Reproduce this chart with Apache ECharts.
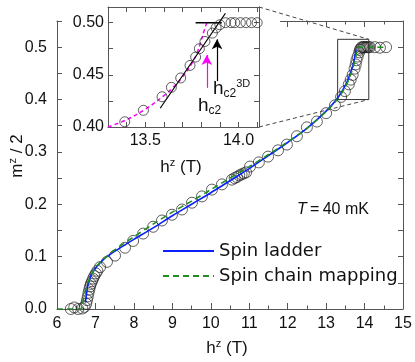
<!DOCTYPE html>
<html>
<head>
<meta charset="utf-8">
<script src="https://cdn.jsdelivr.net/npm/echarts@6/dist/echarts.min.js"></script>
<style>
html, body { margin: 0; padding: 0; background: #fff; }
#chart { width: 415px; height: 362px; }
</style>
</head>
<body>
<div id="chart"></div>
<script>
// measured m^z/2 vs h^z (open circles)
var hData = [6.36, 6.45, 6.55, 6.66, 6.72, 6.76, 6.78, 6.80, 6.82, 6.84, 6.86, 6.88, 6.91, 6.94, 6.97, 7.01, 7.05,
  7.12, 7.30, 7.51, 7.77, 7.98, 8.24, 8.50, 8.73, 8.99, 9.25, 9.51, 9.77, 10.03, 10.29,
  10.55, 10.62, 10.68, 10.74, 10.80, 10.86, 10.92, 11.02, 11.25, 11.49, 11.75, 11.98, 12.24, 12.50, 12.76, 13.00, 13.23,
  13.39, 13.49, 13.59, 13.64, 13.69, 13.74, 13.77, 13.79, 13.82, 13.86, 13.88, 13.90, 13.93, 13.96, 13.98,
  14.01, 14.04, 14.07, 14.10, 14.14, 14.27, 14.40, 14.56]
var mData = [0.000, 0.003, 0.000, 0.001, 0.004, 0.010, 0.017, 0.024, 0.031, 0.037, 0.043, 0.048, 0.053, 0.058, 0.063, 0.068, 0.073,
  0.080, 0.090, 0.102, 0.117, 0.130, 0.144, 0.157, 0.169, 0.180, 0.190, 0.203, 0.215, 0.228, 0.238,
  0.247, 0.250, 0.252, 0.255, 0.257, 0.259, 0.261, 0.272, 0.280, 0.291, 0.303, 0.314, 0.330, 0.347, 0.358, 0.374, 0.389,
  0.405, 0.416, 0.429, 0.438, 0.447, 0.459, 0.467, 0.475, 0.482, 0.490, 0.495, 0.498, 0.500, 0.500, 0.500,
  0.500, 0.500, 0.500, 0.500, 0.500, 0.500, 0.499, 0.500]

// spin ladder (blue)
var ladderH = [6.74, 6.77, 6.80, 6.85, 6.90, 7.00, 7.20, 7.50, 7.80, 8.00, 8.50, 9.00, 9.50, 10.00, 10.50, 11.00,
  11.50, 12.00, 12.50, 13.00, 13.30, 13.50, 13.60, 13.70, 13.75, 13.78]
var ladderM = [0.012, 0.030, 0.045, 0.057, 0.066, 0.078, 0.094, 0.110, 0.124, 0.133, 0.155, 0.178, 0.200, 0.222, 0.245, 0.268,
  0.293, 0.318, 0.345, 0.378, 0.403, 0.427, 0.444, 0.466, 0.483, 0.496]

// spin chain mapping (green dashed)
var chainH = [6.00, 6.62, 6.66, 6.70, 6.75, 6.80, 6.90, 7.00, 7.30, 7.60, 8.00, 8.50, 9.00, 9.50, 10.00, 10.50, 11.00,
  11.50, 12.00, 12.50, 13.00, 13.30, 13.50, 13.60, 13.70, 13.78, 13.84, 14.60]
var chainM = [0.000, 0.000, 0.008, 0.022, 0.038, 0.050, 0.066, 0.079, 0.101, 0.118, 0.138, 0.162, 0.185, 0.206, 0.228, 0.250, 0.272,
  0.295, 0.319, 0.345, 0.377, 0.401, 0.424, 0.440, 0.461, 0.484, 0.500, 0.500]

// inset guides
var guideH = [13.30, 13.40, 13.50, 13.60, 13.65, 13.70, 13.75, 13.78, 13.80, 13.815, 13.83]
var guideM = [0.400, 0.407, 0.417, 0.430, 0.438, 0.448, 0.461, 0.472, 0.483, 0.492, 0.500]
var fitH = [13.58, 13.93]
var fitM = [0.418, 0.509]
var satH = [13.77, 13.91]
var satM = [0.500, 0.500]
var hc2Arrow = [13.83, 0.4375, 0.469]
var hc2_3dArrow = [13.885, 0.444, 0.484]

// axis ranges / tick labels
var insetX = [13.3, 14.11]
var insetY = [0.40, 0.515]
var mainXLabels = ['6', '7', '8', '9', '10', '11', '12', '13', '14', '15']
var mainYLabels = ['0.0', '0.1', '0.2', '0.3', '0.4', '0.5']
var insetXLabels = ['13.5', '14.0']
var insetYLabels = ['0.40', '0.45', '0.50']

var AX = '#555'
var TXT = '#111'
var FONT = '"Liberation Sans", Arial, sans-serif'

function zip(a, b) {
  var out = []
  for (var i = 0; i < a.length; i++) out.push([a[i], b[i]])
  return out
}
function pick(labels) {
  return function (v) {
    for (var i = 0; i < labels.length; i++) {
      if (Math.abs(parseFloat(labels[i]) - v) < 1e-6) return labels[i]
    }
    return ''
  }
}
function axis(o) {
  var base = {
    type: 'value',
    axisLine: { show: true, onZero: false, lineStyle: { color: AX, width: 1 } },
    axisTick: { show: true, inside: true, length: 6, lineStyle: { color: AX } },
    splitLine: { show: false },
    axisLabel: { show: false }
  }
  return Object.assign(base, o)
}
function label(margin, labels) {
  return { show: true, margin: margin, fontSize: 16, color: TXT, fontFamily: FONT, formatter: pick(labels) }
}

var points = zip(hData, mData)
var insetPoints = points.filter(function (p) {
  return p[0] >= insetX[0] && p[0] <= insetX[1] && p[1] >= insetY[0] && p[1] <= insetY[1]
})

var chart = echarts.init(document.getElementById('chart'))
chart.setOption({
  animation: false,
  grid: [
    { left: 57, top: 21, width: 346, height: 288 },
    { left: 108, top: 7, width: 151, height: 120 }
  ],
  xAxis: [
    axis({ gridIndex: 0, position: 'bottom', min: 6, max: 15, interval: 1,
      minorTick: { show: true, splitNumber: 2, length: 3.5, lineStyle: { color: AX } },
      axisLabel: label(7, mainXLabels) }),
    axis({ gridIndex: 0, position: 'top', min: 6, max: 15, interval: 1,
      minorTick: { show: true, splitNumber: 2, length: 3.5, lineStyle: { color: AX } } }),
    axis({ gridIndex: 1, position: 'bottom', min: insetX[0], max: insetX[1], interval: 0.1, z: 10,
      axisTick: { show: true, inside: true, length: 5, lineStyle: { color: AX } },
      axisLabel: label(6, insetXLabels) }),
    axis({ gridIndex: 1, position: 'top', min: insetX[0], max: insetX[1], interval: 0.1, z: 10,
      axisTick: { show: true, inside: true, length: 5, lineStyle: { color: AX } } })
  ],
  yAxis: [
    axis({ gridIndex: 0, position: 'left', min: 0, max: 0.55, interval: 0.05,
      axisTick: { show: true, inside: true, length: 5, lineStyle: { color: AX } },
      axisLabel: label(10, mainYLabels) }),
    axis({ gridIndex: 0, position: 'right', min: 0, max: 0.55, interval: 0.05,
      axisTick: { show: true, inside: true, length: 5, lineStyle: { color: AX } } }),
    axis({ gridIndex: 1, position: 'left', min: insetY[0], max: insetY[1], interval: 0.025, z: 10,
      axisTick: { show: true, inside: true, length: 5, lineStyle: { color: AX } },
      axisLabel: label(4, insetYLabels) }),
    axis({ gridIndex: 1, position: 'right', min: insetY[0], max: insetY[1], interval: 0.025, z: 10,
      axisTick: { show: true, inside: true, length: 5, lineStyle: { color: AX } } })
  ],
  legend: {
    data: ['Spin ladder', 'Spin chain mapping'],
    orient: 'vertical',
    left: 162,
    top: 242,
    padding: 0,
    itemWidth: 51,
    itemHeight: 18,
    itemGap: 7,
    selectedMode: false,
    itemStyle: { color: 'rgba(0,0,0,0)', borderColor: 'rgba(0,0,0,0)', borderWidth: 0 },
    textStyle: { fontFamily: '"DejaVu Sans", sans-serif', fontSize: 18, color: TXT }
  },
  series: [
    {
      name: 'data', type: 'scatter', xAxisIndex: 0, yAxisIndex: 0, clip: false,
      symbol: 'circle', symbolSize: 11,
      itemStyle: { color: 'rgba(0,0,0,0)', borderColor: '#222', borderWidth: 0.9 },
      data: points
    },
    {
      name: 'Spin ladder', type: 'line', xAxisIndex: 0, yAxisIndex: 0, symbol: 'none', smooth: 0.3,
      lineStyle: { color: '#0a1eff', width: 1.6 }, itemStyle: { color: '#0a1eff' }, z: 3,
      data: zip(ladderH, ladderM)
    },
    {
      name: 'Spin chain mapping', type: 'line', xAxisIndex: 0, yAxisIndex: 0, symbol: 'none', smooth: 0.3,
      lineStyle: { color: '#1f8f1f', width: 1.6, type: [6, 4] }, itemStyle: { color: '#1f8f1f' }, z: 3,
      data: zip(chainH, chainM)
    },
    {
      name: 'box', type: 'line', xAxisIndex: 0, yAxisIndex: 0, symbol: 'none', clip: false,
      lineStyle: { color: '#333', width: 1 }, z: 4,
      data: [[insetX[0], insetY[0]], [insetX[1], insetY[0]], [insetX[1], insetY[1]], [insetX[0], insetY[1]], [insetX[0], insetY[0]]]
    },
    {
      name: 'inset data', type: 'scatter', xAxisIndex: 2, yAxisIndex: 2, z: 12,
      symbol: 'circle', symbolSize: 10,
      itemStyle: { color: 'rgba(0,0,0,0)', borderColor: '#222', borderWidth: 0.9 },
      data: insetPoints
    },
    {
      name: 'guide', type: 'line', xAxisIndex: 2, yAxisIndex: 2, symbol: 'none', smooth: 0.4, z: 12,
      lineStyle: { color: '#ff00ff', width: 1.5, type: [4, 3] },
      data: zip(guideH, guideM)
    },
    {
      name: 'fit', type: 'line', xAxisIndex: 2, yAxisIndex: 2, symbol: 'none', z: 12,
      lineStyle: { color: '#000', width: 1.2 },
      data: zip(fitH, fitM),
      markLine: {
        silent: true, symbol: ['none', 'arrow'], symbolSize: [8, 10], label: { show: false },
        data: [
          [{ coord: [hc2Arrow[0], hc2Arrow[1]], lineStyle: { color: '#ff00ff', width: 1.2, type: 'solid' } },
            { coord: [hc2Arrow[0], hc2Arrow[2]] }],
          [{ coord: [hc2_3dArrow[0], hc2_3dArrow[1]], lineStyle: { color: '#000', width: 1.2, type: 'solid' } },
            { coord: [hc2_3dArrow[0], hc2_3dArrow[2]] }]
        ]
      }
    },
    {
      name: 'sat', type: 'line', xAxisIndex: 2, yAxisIndex: 2, symbol: 'none', z: 12,
      lineStyle: { color: '#000', width: 1.5 },
      data: zip(satH, satM)
    }
  ]
})

// connectors from the inset to the zoom box, plus texts
var iTop = chart.convertToPixel({ gridIndex: 1 }, [insetX[1], insetY[1]])
var iBot = chart.convertToPixel({ gridIndex: 1 }, [insetX[1], insetY[0]])
var bTop = chart.convertToPixel({ gridIndex: 0 }, [insetX[1], insetY[1]])
var bBot = chart.convertToPixel({ gridIndex: 0 }, [insetX[1], insetY[0]])

var big = { fontSize: 17, fontFamily: FONT, fill: TXT, lineHeight: 20 }
var sup = { fontSize: 11, fontFamily: FONT, fill: TXT, lineHeight: 11, verticalAlign: 'top' }
var sub = { fontSize: 12, fontFamily: FONT, fill: TXT, lineHeight: 12, verticalAlign: 'bottom' }

chart.setOption({
  graphic: [
    { type: 'rect', z: 5, shape: { x: 62, y: 0, width: 218, height: 32 }, style: { fill: '#fff' } },
    { type: 'line', z: 6, shape: { x1: iTop[0], y1: iTop[1], x2: bTop[0], y2: bTop[1] },
      style: { stroke: '#444', lineWidth: 1, lineDash: [4, 3] } },
    { type: 'line', z: 6, shape: { x1: iBot[0], y1: iBot[1], x2: bBot[0], y2: bBot[1] },
      style: { stroke: '#444', lineWidth: 1, lineDash: [4, 3] } },
    { type: 'text', z: 20, x: 227, y: 348,
      style: { text: '{a|h}{s|z}{a| (T)}', rich: { a: big, s: sup }, align: 'center', verticalAlign: 'middle' } },
    { type: 'text', z: 20, x: 181, y: 167,
      style: { text: '{a|h}{s|z}{a| (T)}', rich: { a: big, s: sup }, align: 'center', verticalAlign: 'middle' } },
    { type: 'text', z: 20, x: 17, y: 156, rotation: Math.PI / 2,
      style: { text: '{a|m}{s|z}{a| / 2}', rich: { a: big, s: sup }, align: 'center', verticalAlign: 'middle' } },
    { type: 'text', z: 20, x: 333, y: 210,
      style: {
        text: '{i|T}{a|\u2009=\u200940 mK}',
        rich: { i: { fontSize: 16, fontFamily: FONT, fontStyle: 'italic', fill: TXT }, a: { fontSize: 16, fontFamily: FONT, fill: TXT } },
        align: 'center', verticalAlign: 'middle'
      } },
    { type: 'text', z: 20, x: 198, y: 106,
      style: { text: '{a|h}{b|c2}', rich: { a: { fontSize: 19, fontFamily: FONT, fill: TXT, lineHeight: 22 }, b: sub },
        align: 'left', verticalAlign: 'middle' } },
    { type: 'text', z: 20, x: 213, y: 89,
      style: { text: '{a|h}{b|c2}{s|3D}', rich: { a: { fontSize: 19, fontFamily: FONT, fill: TXT, lineHeight: 22 }, b: sub, s: sup },
        align: 'left', verticalAlign: 'middle' } }
  ]
})
</script>
</body>
</html>
